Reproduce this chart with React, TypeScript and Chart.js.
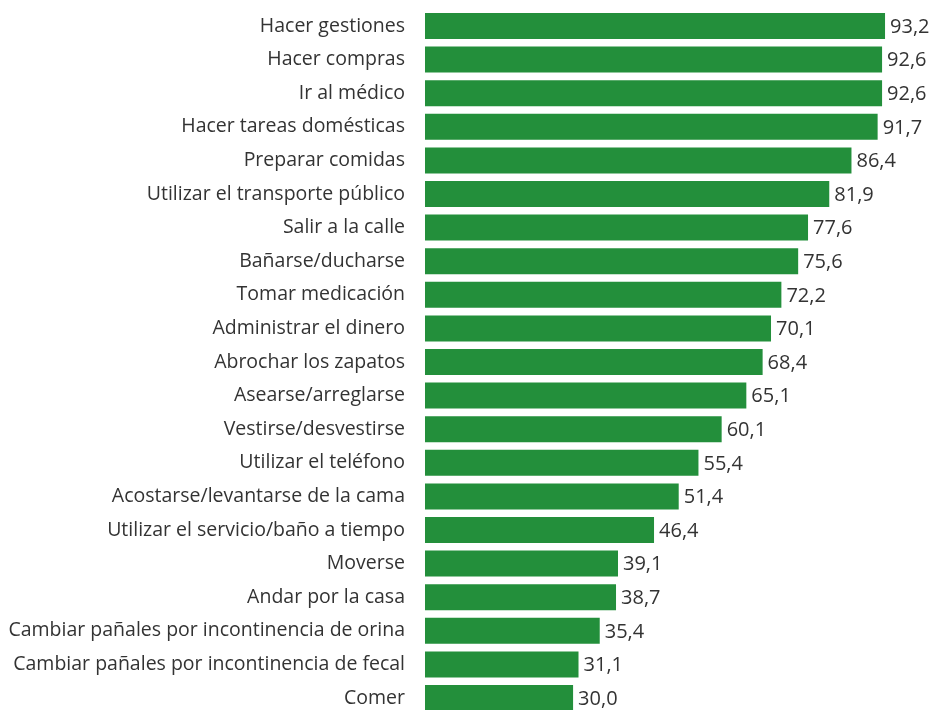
import React, { useEffect, useRef } from "react";
import { Chart, registerables } from "chart.js";

Chart.register(...registerables);

const categories = [
  "Hacer gestiones",
  "Hacer compras",
  "Ir al médico",
  "Hacer tareas domésticas",
  "Preparar comidas",
  "Utilizar el transporte público",
  "Salir a la calle",
  "Bañarse/ducharse",
  "Tomar medicación",
  "Administrar el dinero",
  "Abrochar los zapatos",
  "Asearse/arreglarse",
  "Vestirse/desvestirse",
  "Utilizar el teléfono",
  "Acostarse/levantarse de la cama",
  "Utilizar el servicio/baño a tiempo",
  "Moverse",
  "Andar por la casa",
  "Cambiar pañales por incontinencia de orina",
  "Cambiar pañales por incontinencia de fecal",
  "Comer",
];

const values = [
  93.2, 92.6, 92.6, 91.7, 86.4, 81.9, 77.6, 75.6, 72.2, 70.1, 68.4, 65.1, 60.1,
  55.4, 51.4, 46.4, 39.1, 38.7, 35.4, 31.1, 30.0,
];

const FONT = "'Open Sans', sans-serif";
const TEXT = "#333333";
const GREEN = "#238f3b";

const valueLabels = {
  id: "valueLabels",
  afterDatasetsDraw(chart: any) {
    const ctx = chart.ctx;
    const meta = chart.getDatasetMeta(0);
    ctx.save();
    ctx.font = `20px ${FONT}`;
    ctx.fillStyle = TEXT;
    ctx.textAlign = "left";
    ctx.textBaseline = "middle";
    meta.data.forEach((el: any, i: number) => {
      const v = chart.data.datasets[0].data[i] as number;
      ctx.fillText(v.toFixed(1).replace(".", ","), el.x + 5, el.y + 1);
    });
    ctx.restore();
  },
};

export default function App() {
  const ref = useRef<HTMLCanvasElement>(null);
  useEffect(() => {
    if (!ref.current) return;
    const chart = new Chart(ref.current, {
      type: "bar",
      data: {
        labels: categories,
        datasets: [
          {
            data: values,
            backgroundColor: GREEN,
            borderWidth: 0,
            barPercentage: 0.774,
            categoryPercentage: 1,
          },
        ],
      },
      options: {
        indexAxis: "y",
        animation: false,
        responsive: true,
        maintainAspectRatio: false,
        layout: { padding: { top: 9.2, bottom: 9.2, left: 0, right: 18.4 } },
        plugins: {
          legend: { display: false },
          tooltip: { enabled: false },
        },
        scales: {
          x: {
            min: 0,
            max: 100,
            display: false,
          },
          y: {
            grid: { display: false, drawTicks: true, tickLength: 20 },
            border: { display: false },
            ticks: {
              padding: 0,
              color: TEXT,
              font: { family: FONT, size: 19.5, lineHeight: 0.9 },
              autoSkip: false,
            },
            afterFit(axis: any) {
              axis.width = 425;
            },
          },
        },
      },
      plugins: [valueLabels],
    });
    return () => chart.destroy();
  }, []);
  return (
    <div style={{ position: "absolute", left: 0, top: 0, width: 937, height: 724 }}>
      <canvas ref={ref} />
    </div>
  );
}
